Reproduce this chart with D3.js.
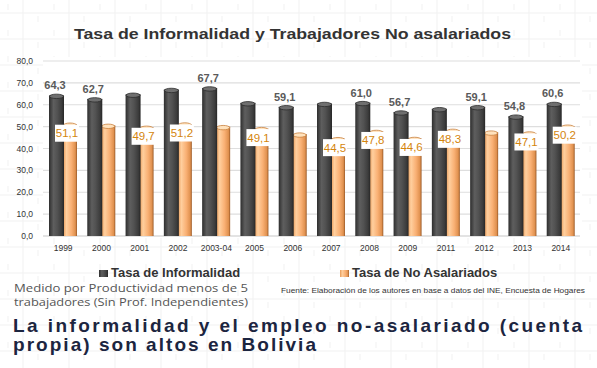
<!DOCTYPE html>
<html>
<head>
<meta charset="utf-8">
<script src="https://cdn.jsdelivr.net/npm/d3@7.9.0/dist/d3.min.js"></script>
<style>
  html, body { margin: 0; padding: 0; background: #fff; }
  svg { display: block; font-family: "Liberation Sans", Arial, sans-serif; }
</style>
</head>
<body>
<svg id="chart" width="597" height="368"></svg>
<script>
const categories = ["1999", "2000", "2001", "2002", "2003-04", "2005", "2006", "2007", "2008", "2009", "2011", "2012", "2013", "2014"];
const informalidad = [64.3, 62.7, 64.8, 67.0, 67.7, 60.9, 59.1, 60.6, 61.0, 56.7, 58.2, 59.1, 54.8, 60.6];
const noAsalariados = [51.1, 50.6, 49.7, 51.2, 50.0, 49.1, 46.6, 44.5, 47.8, 44.6, 48.3, 47.5, 47.1, 50.2];
// which bars carry a value label in the original
const informalidadLabeled = [1, 1, 0, 0, 1, 0, 1, 0, 1, 1, 0, 1, 1, 1];
const noAsalariadosLabeled = [1, 0, 1, 1, 0, 1, 0, 1, 1, 1, 1, 0, 1, 1];
const yTicks = [0, 10, 20, 30, 40, 50, 60, 70, 80];
const seriesNames = ["Tasa de Informalidad", "Tasa de No Asalariados"];

const svg = d3.select("#chart");
const width = 597, height = 368;
const fmt = v => d3.format(".1f")(v).replace(".", ",");

// faint background pattern
const defs = svg.append("defs");
const pat = defs.append("pattern")
  .attr("id", "bgpat").attr("width", 46).attr("height", 26)
  .attr("patternUnits", "userSpaceOnUse");
pat.append("path").attr("d", "M0 13H46M23 0V26M8 4V10M38 16V22")
  .attr("stroke", "#f1f1f1").attr("stroke-width", 1).attr("fill", "none");
svg.append("rect").attr("width", width).attr("height", height).attr("fill", "url(#bgpat)");

function hGrad(id, stops) {
  const g = defs.append("linearGradient").attr("id", id)
    .attr("x1", "0%").attr("x2", "100%").attr("y1", "0%").attr("y2", "0%");
  stops.forEach(([o, c]) => g.append("stop").attr("offset", o).attr("stop-color", c));
}
hGrad("gDark", [[0, "#2e2e2e"], [0.3, "#5e5e5e"], [0.55, "#525252"], [0.85, "#3c3c3c"], [1, "#262626"]]);
hGrad("gOrange", [[0, "#e79a58"], [0.25, "#ffcf9e"], [0.6, "#f9b074"], [0.88, "#e0914f"], [1, "#9a5a28"]]);

const plotTop = 61, plotBottom = 236;
svg.append("rect").attr("x", 43).attr("y", plotTop - 4).attr("width", 539).attr("height", plotBottom - plotTop + 6)
  .attr("fill", "#fff");

const x0 = d3.scaleBand().domain(categories).range([44, 580]).paddingInner(0).paddingOuter(0);
const x1 = d3.scaleBand().domain(["inf", "noa"]).range([5, 33]);
const y = d3.scaleLinear().domain([0, 80]).range([plotBottom, plotTop]);

// gridlines
svg.append("g")
  .selectAll("line")
  .data(yTicks)
  .join("line")
  .attr("x1", 43).attr("x2", 580)
  .attr("y1", d => y(d)).attr("y2", d => y(d))
  .attr("stroke", d => d === 0 ? "#c8c8c8" : "#dedede")
  .attr("stroke-width", 1.2);

// y axis labels
svg.append("g")
  .selectAll("text")
  .data(yTicks)
  .join("text")
  .attr("x", 33).attr("y", d => y(d) + 3)
  .attr("text-anchor", "end")
  .style("font-size", "8.5px").style("fill", "#333")
  .text(d => fmt(d));

// x axis labels
svg.append("g")
  .selectAll("text")
  .data(categories)
  .join("text")
  .attr("x", d => x0(d) + x0.bandwidth() / 2).attr("y", 251)
  .attr("text-anchor", "middle")
  .style("font-size", "8.5px").style("fill", "#333")
  .text(d => d);

const rows = categories.map((c, i) => ({ c, inf: informalidad[i], noa: noAsalariados[i], li: informalidadLabeled[i], ln: noAsalariadosLabeled[i] }));

function drawBars(key, grad, capFill, capStroke, wExtra) {
  const g = svg.append("g");
  const w = x1.bandwidth() + wExtra;
  g.selectAll("rect")
    .data(rows)
    .join("rect")
    .attr("x", d => x0(d.c) + x1(key))
    .attr("y", d => y(d[key]))
    .attr("width", w)
    .attr("height", d => plotBottom - y(d[key]))
    .attr("fill", `url(#${grad})`);
  g.selectAll("ellipse")
    .data(rows)
    .join("ellipse")
    .attr("cx", d => x0(d.c) + x1(key) + w / 2)
    .attr("cy", d => y(d[key]) + 1)
    .attr("rx", w / 2 - 0.5).attr("ry", 2.2)
    .attr("fill", capFill).attr("stroke", capStroke).attr("stroke-width", 0.8);
}
drawBars("noa", "gOrange", "#ffe2bd", "#c9823f", 0);
drawBars("inf", "gDark", "#6f6f6f", "#2c2c2c", 1);

// dark labels
svg.append("g")
  .selectAll("text")
  .data(rows.filter(d => d.li))
  .join("text")
  .attr("x", d => x0(d.c) + 11).attr("y", d => y(d.inf) - 6)
  .attr("text-anchor", "middle")
  .style("font-size", "11px").style("font-weight", "bold").style("fill", "#5a5a5a")
  .text(d => fmt(d.inf));

// orange labels with white boxes
const ol = svg.append("g")
  .selectAll("g")
  .data(rows.filter(d => d.ln))
  .join("g")
  .attr("transform", d => `translate(${x0(d.c) + 23},${y(d.noa) + 9})`);
ol.append("rect").attr("x", -12).attr("y", -8.5).attr("width", 24).attr("height", 17).attr("fill", "#fff");
ol.append("text").attr("y", 4).attr("text-anchor", "middle")
  .style("font-size", "11.5px").style("fill", "#d4850c")
  .text(d => fmt(d.noa));

// chart title
svg.append("text")
  .attr("x", 74).attr("y", 39)
  .attr("textLength", 437).attr("lengthAdjust", "spacingAndGlyphs")
  .style("font-size", "15.5px").style("font-weight", "bold").style("fill", "#333")
  .text("Tasa de Informalidad y Trabajadores No asalariados");

// legend
const legendX = [99, 340];
const legendFill = ["url(#gDark)", "url(#gOrange)"];
seriesNames.forEach((s, i) => {
  svg.append("rect").attr("x", legendX[i]).attr("y", 270).attr("width", 9).attr("height", 7)
    .attr("fill", legendFill[i]);
  svg.append("text").attr("x", legendX[i] + 12).attr("y", 277)
    .style("font-size", "13px").style("font-weight", "bold").style("fill", "#333")
    .text(s);
});

// notes
svg.append("text").attr("x", 14).attr("y", 292)
  .attr("textLength", 234).attr("lengthAdjust", "spacingAndGlyphs")
  .style("font-family", "'Open Sans', sans-serif").style("font-size", "10.5px").style("fill", "#555")
  .text("Medido por Productividad menos de 5");
svg.append("text").attr("x", 14).attr("y", 306)
  .attr("textLength", 234).attr("lengthAdjust", "spacingAndGlyphs")
  .style("font-family", "'Open Sans', sans-serif").style("font-size", "10.5px").style("fill", "#555")
  .text("trabajadores (Sin Prof. Independientes)");
svg.append("text").attr("x", 281).attr("y", 293)
  .attr("textLength", 304).attr("lengthAdjust", "spacingAndGlyphs")
  .style("font-size", "7.5px").style("fill", "#333")
  .text("Fuente: Elaboración de los autores en base a datos del INE, Encuesta de Hogares");

// headline
svg.append("text").attr("x", 13).attr("y", 332)
  .attr("textLength", 569).attr("lengthAdjust", "spacing")
  .style("font-size", "19px").style("font-weight", "bold").style("fill", "#1c2540")
  .text("La informalidad y el empleo no-asalariado (cuenta");
svg.append("text").attr("x", 13).attr("y", 351)
  .attr("textLength", 303).attr("lengthAdjust", "spacing")
  .style("font-size", "19px").style("font-weight", "bold").style("fill", "#1c2540")
  .text("propia) son altos en Bolivia");
</script>
</body>
</html>
